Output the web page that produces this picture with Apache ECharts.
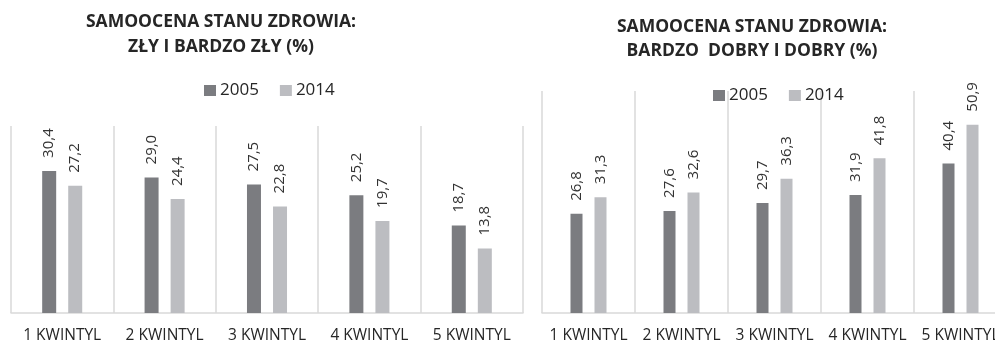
<!DOCTYPE html>
<html>
<head>
<meta charset="utf-8">
<script src="https://cdn.jsdelivr.net/npm/echarts@6/dist/echarts.min.js"></script>
<style>
  html, body { margin: 0; padding: 0; background: #fff; }
  #chart { width: 995px; height: 344px; }
</style>
</head>
<body>
<div id="chart"></div>
<script>
// Income quintiles and the two survey years
const categories = ['1 KWINTYL', '2 KWINTYL', '3 KWINTYL', '4 KWINTYL', '5 KWINTYL'];
const years = ['2005', '2014'];

// Self-rated health: bad and very bad (%)
const badHealth2005 = [30.4, 29.0, 27.5, 25.2, 18.7];
const badHealth2014 = [27.2, 24.4, 22.8, 19.7, 13.8];

// Self-rated health: very good and good (%)
const goodHealth2005 = [26.8, 27.6, 29.7, 31.9, 40.4];
const goodHealth2014 = [31.3, 32.6, 36.3, 41.8, 50.9];

const titleLeft = 'SAMOOCENA STANU ZDROWIA:\nZŁY I BARDZO ZŁY (%)';
const titleRight = 'SAMOOCENA STANU ZDROWIA:\nBARDZO  DOBRY I DOBRY (%)';

const FONT = '"Open Sans", "DejaVu Sans", sans-serif';
const DARK = '#7b7c80';
const LIGHT = '#bcbdc1';
const GRID_LINE = '#d9d9d9';
const TEXT = '#262626';

const fmt = v => v.toFixed(1).replace('.', ',');

function catAxis(gridIndex) {
  return {
    type: 'category',
    gridIndex,
    data: categories,
    axisLine: { show: true, lineStyle: { color: GRID_LINE, width: 1.5 } },
    axisTick: { show: false },
    splitLine: { show: true, lineStyle: { color: GRID_LINE, width: 1.5 } },
    axisLabel: { color: TEXT, fontFamily: FONT, fontSize: 15.5, margin: 15, interval: 0, hideOverlap: false }
  };
}

function valAxis(gridIndex, max) {
  return {
    type: 'value',
    gridIndex,
    min: 0,
    max,
    show: false
  };
}

function barSeries(name, data, idx, color, barWidth, barGap) {
  return {
    type: 'bar',
    name,
    xAxisIndex: idx,
    yAxisIndex: idx,
    data,
    barWidth,
    barGap,
    itemStyle: { color },
    label: {
      show: true,
      position: 'top',
      rotate: 90,
      align: 'left',
      verticalAlign: 'middle',
      distance: 13,
      color: '#333',
      fontFamily: FONT,
      fontSize: 15,
      formatter: p => fmt(p.value)
    },
    animation: false
  };
}

const chart = echarts.init(document.getElementById('chart'), null, { renderer: 'canvas' });

chart.setOption({
  backgroundColor: '#ffffff',
  animation: false,
  title: [
    {
      text: titleLeft,
      left: 216,
      top: 5,
      textAlign: 'center',
      textStyle: { fontFamily: FONT, fontWeight: 'bold', fontSize: 17.5, lineHeight: 25, color: TEXT }
    },
    {
      text: titleRight,
      left: 747,
      top: 10,
      textAlign: 'center',
      textStyle: { fontFamily: FONT, fontWeight: 'bold', fontSize: 17.5, lineHeight: 24, color: TEXT }
    }
  ],
  legend: [
    {
      data: years,
      left: 199,
      top: 77,
      itemWidth: 12,
      itemHeight: 11,
      itemGap: 21,
      icon: 'rect',
      textStyle: { fontFamily: FONT, fontSize: 17, color: TEXT, padding: [0, 0, 0, -1] }
    },
    {
      data: years,
      left: 708,
      top: 82,
      itemWidth: 12,
      itemHeight: 11,
      itemGap: 21,
      icon: 'rect',
      textStyle: { fontFamily: FONT, fontSize: 17, color: TEXT, padding: [0, 0, 0, -1] }
    }
  ],
  grid: [
    { left: 11, top: 126, width: 512, height: 187, outerBoundsMode: 'none' },
    { left: 542, top: 91, width: 465, height: 222, outerBoundsMode: 'none' }
  ],
  xAxis: [catAxis(0), catAxis(1)],
  yAxis: [valAxis(0, 40), valAxis(1, 60)],
  series: [
    barSeries(years[0], badHealth2005, 0, DARK, 14, '86%'),
    barSeries(years[1], badHealth2014, 0, LIGHT, 14, '86%'),
    barSeries(years[0], goodHealth2005, 1, DARK, 12, '100%'),
    barSeries(years[1], goodHealth2014, 1, LIGHT, 12, '100%')
  ]
});
</script>
</body>
</html>
